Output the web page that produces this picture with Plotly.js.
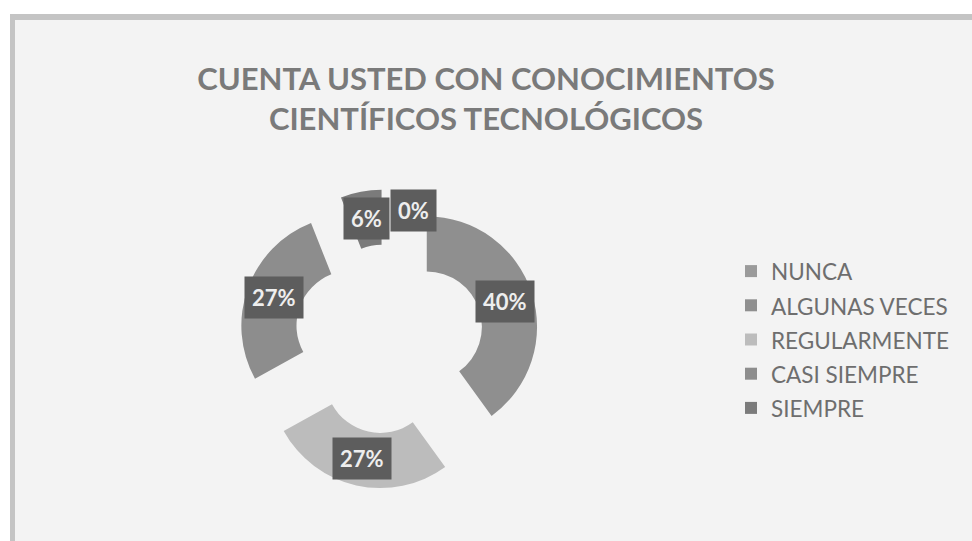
<!DOCTYPE html>
<html>
<head>
<meta charset="utf-8">
<script src="https://cdn.plot.ly/plotly-3.0.1.min.js"></script>
<style>
  html, body { margin: 0; padding: 0; background: #ffffff; }
  #chart { width: 972px; height: 541px; }
</style>
</head>
<body>
<div id="chart"></div>
<script>
// ---- data ----
const categories = ['NUNCA', 'ALGUNAS VECES', 'REGULARMENTE', 'CASI SIEMPRE', 'SIEMPRE'];
const percents = [0, 40, 27, 27, 6];
const sliceColors = ['#9a9a9a', '#8f8f8f', '#bcbcbc', '#8d8d8d', '#7b7b7b'];
const titleText = 'CUENTA USTED CON CONOCIMIENTOS<br>CIENTÍFICOS TECNOLÓGICOS';

// ---- layout geometry ----
const W = 972, H = 541;
const cxPx = 389, cyPx = 339, half = 150;
const pullFrac = 0.36, holeFrac = 0.5;

const domX = [(cxPx - half) / W, (cxPx + half) / W];
const domY = [1 - (cyPx + half) / H, 1 - (cyPx - half) / H];

// radius as the pie trace computes it (room left for the pull)
const R = half / (1 + pullFrac);
const labelDist = R * (1 + holeFrac) / 2 + R * pullFrac;

const total = percents.reduce((a, b) => a + b, 0);
let cum = 0;
const boxes = percents.map((v, i) => {
  const mid = (cum + v / 2) / total * 2 * Math.PI;
  cum += v;
  const txt = Math.round(v / total * 100) + '%';
  const w = 22 + txt.length * 12;
  return { x: cxPx + labelDist * Math.sin(mid), y: cyPx - labelDist * Math.cos(mid), txt, w, h: 41 };
});
// simple overlap avoidance: push the right-hand box of an overlapping pair to the right
for (let i = 0; i < boxes.length; i++) {
  for (let j = 0; j < boxes.length; j++) {
    if (i === j) continue;
    const a = boxes[i], b = boxes[j];
    if (a.x >= b.x && Math.abs(a.y - b.y) < (a.h + b.h) / 2 && Math.abs(a.x - b.x) < (a.w + b.w) / 2) {
      a.x = b.x + (a.w + b.w) / 2 + 1;
      a.y = Math.min(a.y, b.y) - 6;
    }
  }
}
const annotations = boxes.map(b => ({
  xref: 'paper', yref: 'paper',
  x: b.x / W, y: 1 - b.y / H,
  xanchor: 'center', yanchor: 'middle',
  text: '<b>' + b.txt + '</b>',
  showarrow: false,
  font: { family: 'Lato, sans-serif', size: 22, color: '#eeeeee' },
  bgcolor: '#5d5d5d',
  borderpad: 7
}));

const legendLabels = categories.map(c => '<span style="font-size:22.5px">' + c + '</span>');

const trace = {
  type: 'pie',
  labels: legendLabels,
  values: percents,
  hole: holeFrac,
  pull: percents.map(() => pullFrac),
  sort: false,
  direction: 'clockwise',
  rotation: 0,
  textinfo: 'none',
  hoverinfo: 'label+percent',
  marker: { colors: sliceColors, line: { width: 0 } },
  domain: { x: domX, y: domY }
};

const layout = {
  width: W, height: H,
  margin: { l: 0, r: 0, t: 0, b: 0 },
  paper_bgcolor: '#f3f3f3',
  title: {
    text: titleText,
    x: 486 / W, xanchor: 'center',
    y: 1 - 90 / H, yanchor: 'middle',
    font: { family: 'Lato, sans-serif', size: 31, color: '#7a7a7a', weight: 'bold' }
  },
  showlegend: true,
  legend: {
    x: 731 / W, xanchor: 'left',
    y: 1 - 249 / H, yanchor: 'top',
    bgcolor: 'rgba(0,0,0,0)',
    font: { family: 'Lato, sans-serif', size: 24, color: '#6e6e6e' },
    itemclick: false
  },
  annotations: annotations,
  shapes: [
    { type: 'rect', xref: 'paper', yref: 'paper', x0: 0, x1: 1, y0: 1 - 14 / H, y1: 1, fillcolor: '#ffffff', line: { width: 0 }, layer: 'below' },
    { type: 'rect', xref: 'paper', yref: 'paper', x0: 0, x1: 10 / W, y0: 0, y1: 1, fillcolor: '#ffffff', line: { width: 0 }, layer: 'below' },
    { type: 'rect', xref: 'paper', yref: 'paper', x0: 10 / W, x1: 1, y0: 1 - 20 / H, y1: 1 - 14 / H, fillcolor: '#c4c4c4', line: { width: 0 }, layer: 'below' },
    { type: 'rect', xref: 'paper', yref: 'paper', x0: 10 / W, x1: 15 / W, y0: 0, y1: 1 - 14 / H, fillcolor: '#c4c4c4', line: { width: 0 }, layer: 'below' }
  ]
};

Plotly.newPlot('chart', [trace], layout, { displayModeBar: false, staticPlot: true });
</script>
</body>
</html>
